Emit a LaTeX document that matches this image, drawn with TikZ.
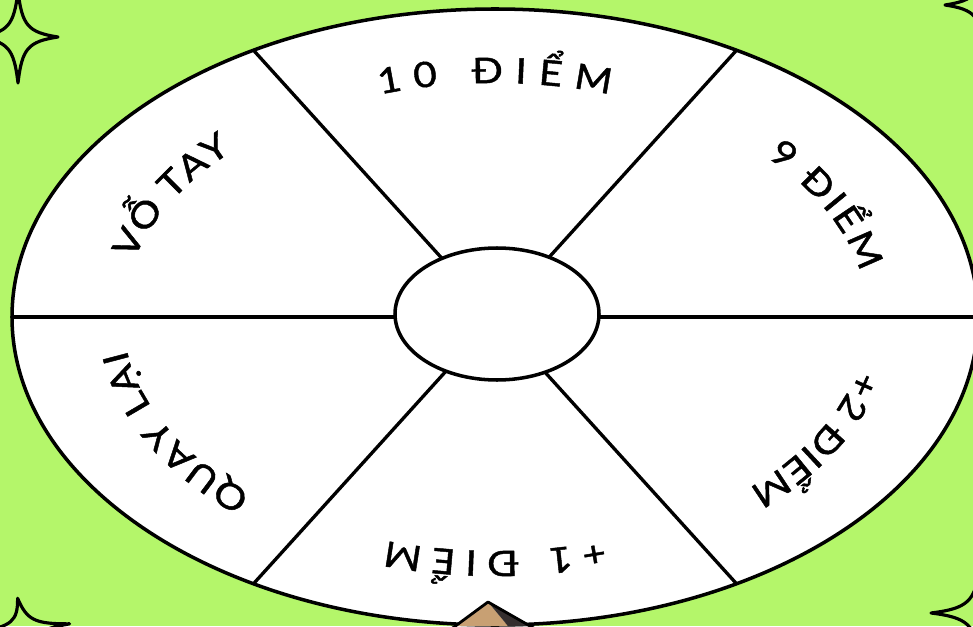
\documentclass[tikz,border=0pt]{standalone}
\usepackage{fontspec}
\setmainfont{Lato}
\newfontfamily\wheelfamily[FakeBold=1.3,FakeStretch=1.15]{Lato}
\newcommand\wheelfont{\wheelfamily\fontsize{20}{24}\selectfont}
\usetikzlibrary{calc,decorations.text}
\definecolor{wheelgreen}{RGB}{180,246,106}
\definecolor{pointertan}{RGB}{200,160,115}
\definecolor{pointerdark}{RGB}{52,46,46}

\begin{document}
\begin{tikzpicture}[x=0.02cm,y=0.02cm,
  rim/.style={line width=2pt},
  divider/.style={line width=1.9pt},
  wheeltext/.style={decorate,decoration={text along path,
    text={|\wheelfont|#1},text align={fit to path}}},
  sparkle/.pic={\draw[line width=1.8pt,line join=round]
    (0,1) .. controls (0.1,0.25) and (0.25,0.1) .. (1,0)
    .. controls (0.25,-0.1) and (0.1,-0.25) .. (0,-1)
    .. controls (-0.1,-0.25) and (-0.25,-0.1) .. (-1,0)
    .. controls (-0.25,0.1) and (-0.1,0.25) .. (0,1) -- cycle;}]
% background
\useasboundingbox (0,0) rectangle (973,626);
\fill[wheelgreen] (0,0) rectangle (973,626);
\clip (0,0) rectangle (973,626);
\coordinate (c) at (495,309);
\coordinate (hub) at (497,312);
% corner sparkles
\pic[xscale=40,yscale=46] at (18,589) {sparkle};
\pic[xscale=40,yscale=46] at (985,621) {sparkle};
\pic[xscale=49,yscale=46] at (980,13) {sparkle};
\pic[xscale=46,yscale=30,rotate=8] at (24,-2) {sparkle};
% wheel
\draw[rim,fill=white] (c) ellipse [x radius=483,y radius=308];
\foreach \a in {0,60,...,300}
  \draw[divider] (c) -- ++(\a:483 and 308);
\draw[rim,fill=white] (hub) ellipse [x radius=102,y radius=66];
% labels, clockwise
\path[wheeltext={10 ĐIỂM}] ($(c)+(108:372 and 234)$)
  arc[start angle=108,end angle=72,x radius=372,y radius=234];
\path[wheeltext={9 ĐIỂM}] ($(c)+(43:372 and 234)$)
  arc[start angle=43,end angle=11,x radius=372,y radius=234];
\path[wheeltext={+2 ĐIỂM}] ($(c)+(-13:372 and 234)$)
  arc[start angle=-13,end angle=-47,x radius=372,y radius=234];
\path[wheeltext={+1 ĐIỂM}] ($(c)+(-73:372 and 234)$)
  arc[start angle=-73,end angle=-107,x radius=372,y radius=234];
\path[wheeltext={QUAY LẠI}] ($(c)+(229:372 and 234)$)
  arc[start angle=229,end angle=188,x radius=372,y radius=234];
\path[wheeltext={VỖ TAY}] ($(c)+(166:372 and 234)$)
  arc[start angle=166,end angle=135,x radius=372,y radius=234];
% pointer
\fill[pointertan] (455,0) -- (488,24) -- (508,0) -- cycle;
\fill[pointerdark] (488,24) -- (532,0) -- (508,0) -- cycle;
\draw[line width=1.6pt,line join=round] (450,-4) -- (488,24) -- (537,-4);
\end{tikzpicture}
\end{document}
